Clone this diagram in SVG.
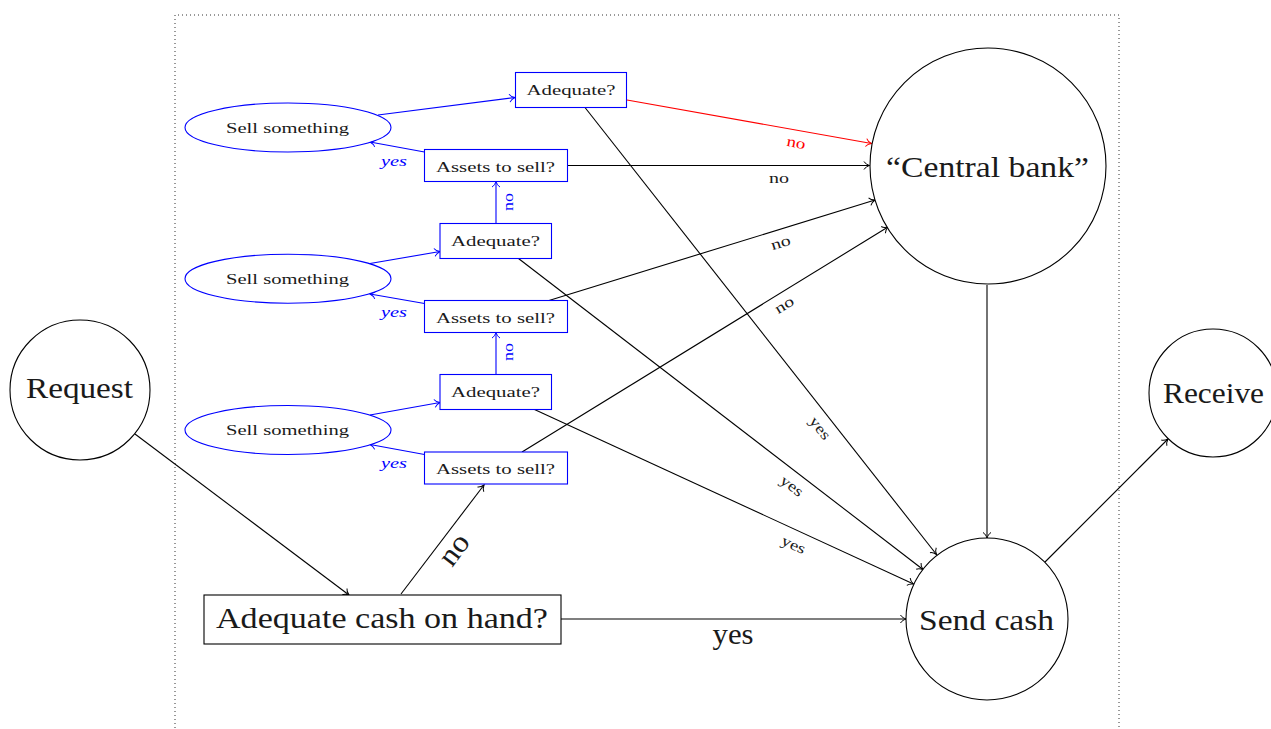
<svg xmlns="http://www.w3.org/2000/svg" width="1271" height="729" viewBox="0 0 1271 729">
<style>
.n{fill:#fff;stroke:#000;stroke-width:1.1}
.b{fill:#fff;stroke:#0000ff;stroke-width:1.1}
.t{font-family:"Liberation Serif","Times New Roman",serif;fill:#1a1a1a;text-anchor:middle}
.L{font-size:30px}
.S{font-size:15px}
.e{font-size:15px}
.c{fill:none;stroke-width:1.1}
.k{stroke:#000;marker-end:url(#ak)}
.u{stroke:#0000ff;marker-end:url(#au)}
.r{stroke:#ff0000;marker-end:url(#ar)}
.bl{fill:#0000ff}
.rd{fill:#ff0000}
</style>
<defs>
<marker id="ak" markerUnits="userSpaceOnUse" viewBox="-8 -6 10 12" markerWidth="10" markerHeight="12" refX="0" refY="0" orient="auto"><path d="M-5.5,-4 C-4.5,-2 -1.5,-0.5 0,0 C-1.5,0.5 -4.5,2 -5.5,4" fill="none" stroke="#000" stroke-width="1"/></marker>
<marker id="au" markerUnits="userSpaceOnUse" viewBox="-8 -6 10 12" markerWidth="10" markerHeight="12" refX="0" refY="0" orient="auto"><path d="M-5.5,-4 C-4.5,-2 -1.5,-0.5 0,0 C-1.5,0.5 -4.5,2 -5.5,4" fill="none" stroke="#0000ff" stroke-width="1"/></marker>
<marker id="ar" markerUnits="userSpaceOnUse" viewBox="-8 -6 10 12" markerWidth="10" markerHeight="12" refX="0" refY="0" orient="auto"><path d="M-5.5,-4 C-4.5,-2 -1.5,-0.5 0,0 C-1.5,0.5 -4.5,2 -5.5,4" fill="none" stroke="#ff0000" stroke-width="1"/></marker>
</defs>
<rect width="1271" height="729" fill="#fff"/>
<path d="M175,740 V15 H1119 V740" fill="none" stroke="#333" stroke-width="1" stroke-dasharray="1 3"/>

<g id="connectors">
<line class="c k" x1="135" y1="434" x2="349" y2="595"/>
<line class="c k" x1="401" y1="594" x2="484" y2="485"/>
<line class="c k" x1="561" y1="619" x2="906" y2="619"/>
<line class="c k" x1="987" y1="285" x2="987" y2="538"/>
<line class="c k" x1="1045" y1="562" x2="1168" y2="439"/>
<line class="c r" x1="627" y1="100" x2="871.5" y2="143.5"/>
<line class="c k" x1="567" y1="165.5" x2="869.5" y2="165.5"/>
<line class="c k" x1="549" y1="300.5" x2="875" y2="200"/>
<line class="c k" x1="522" y1="452" x2="888" y2="227"/>
<line class="c k" x1="585" y1="107.5" x2="936.5" y2="554.5"/>
<line class="c k" x1="518.5" y1="258.5" x2="923" y2="569.5"/>
<line class="c k" x1="534.5" y1="409.5" x2="913.5" y2="584"/>
<line class="c u" x1="378" y1="115" x2="515" y2="97.5"/>
<line class="c u" x1="424.5" y1="152" x2="370" y2="142"/>
<line class="c u" x1="496" y1="223.5" x2="496" y2="181.5"/>
<line class="c u" x1="370" y1="263.5" x2="440" y2="251.5"/>
<line class="c u" x1="424.5" y1="303.5" x2="370" y2="294"/>
<line class="c u" x1="496" y1="374.5" x2="496" y2="332.5"/>
<line class="c u" x1="370" y1="415" x2="440" y2="402.5"/>
<line class="c u" x1="424.5" y1="454.5" x2="370" y2="444.5"/>
<text class="t L" x="0" y="7" transform="translate(456,551) rotate(-53)" textLength="32" lengthAdjust="spacingAndGlyphs">no</text>
<text class="t L" x="733" y="644" textLength="41" lengthAdjust="spacingAndGlyphs">yes</text>
<text class="t e rd" x="0" y="3.5" transform="translate(796,144) rotate(10.3)" textLength="19" lengthAdjust="spacingAndGlyphs">no</text>
<text class="t e" x="779" y="183" textLength="20" lengthAdjust="spacingAndGlyphs">no</text>
<text class="t e" x="0" y="3.5" transform="translate(781,244) rotate(-17)" textLength="20" lengthAdjust="spacingAndGlyphs">no</text>
<text class="t e" x="0" y="3.5" transform="translate(785,306) rotate(-31.5)" textLength="20" lengthAdjust="spacingAndGlyphs">no</text>
<text class="t e" x="0" y="3.5" transform="translate(819,429) rotate(51.8)" textLength="25" lengthAdjust="spacingAndGlyphs">yes</text>
<text class="t e" x="0" y="3.5" transform="translate(791,487) rotate(37.6)" textLength="25" lengthAdjust="spacingAndGlyphs">yes</text>
<text class="t e" x="0" y="3.5" transform="translate(793,546) rotate(24.4)" textLength="25" lengthAdjust="spacingAndGlyphs">yes</text>
<text class="t e bl" x="0" y="3.5" transform="translate(509,202) rotate(-90)" textLength="18" lengthAdjust="spacingAndGlyphs">no</text>
<text class="t e bl" x="0" y="3.5" transform="translate(509,352) rotate(-90)" textLength="18" lengthAdjust="spacingAndGlyphs">no</text>
<text class="t e bl" x="394" y="166" font-style="italic" textLength="26" lengthAdjust="spacingAndGlyphs">yes</text>
<text class="t e bl" x="394" y="317" font-style="italic" textLength="26" lengthAdjust="spacingAndGlyphs">yes</text>
<text class="t e bl" x="394" y="468" font-style="italic" textLength="26" lengthAdjust="spacingAndGlyphs">yes</text>
</g>

<g id="request"><circle class="n" cx="80" cy="390" r="70"/><text class="t L" x="79.5" y="398" textLength="107" lengthAdjust="spacingAndGlyphs">Request</text></g>
<g id="adequate-cash"><rect class="n" x="204" y="595" width="357" height="49"/><text class="t L" x="382" y="628" textLength="332" lengthAdjust="spacingAndGlyphs">Adequate cash on hand?</text></g>
<g id="send-cash"><circle class="n" cx="987" cy="619" r="81"/><text class="t L" x="986.5" y="630" textLength="135" lengthAdjust="spacingAndGlyphs">Send cash</text></g>
<g id="central-bank"><circle class="n" cx="988" cy="166" r="118"/><text class="t L" x="987.5" y="177" textLength="203" lengthAdjust="spacingAndGlyphs">“Central bank”</text></g>
<g id="receive"><circle class="n" cx="1213" cy="393" r="64"/><text class="t L" x="1213.5" y="403" textLength="101" lengthAdjust="spacingAndGlyphs">Receive</text></g>

<g id="adequate-1"><rect class="b" x="515.5" y="72.5" width="111" height="35"/><text class="t S" x="571" y="95" textLength="89" lengthAdjust="spacingAndGlyphs">Adequate?</text></g>
<g id="sell-1"><ellipse class="b" cx="288" cy="127.5" rx="103" ry="24.5"/><text class="t S" x="287.5" y="132.5" textLength="123" lengthAdjust="spacingAndGlyphs">Sell something</text></g>
<g id="assets-1"><rect class="b" x="424.5" y="149.5" width="143" height="32"/><text class="t S" x="495.5" y="171.5" textLength="119" lengthAdjust="spacingAndGlyphs">Assets to sell?</text></g>

<g id="adequate-2"><rect class="b" x="440" y="223.5" width="111.5" height="35"/><text class="t S" x="495.5" y="246" textLength="89" lengthAdjust="spacingAndGlyphs">Adequate?</text></g>
<g id="sell-2"><ellipse class="b" cx="288" cy="278.7" rx="103" ry="24.5"/><text class="t S" x="287.5" y="283.5" textLength="123" lengthAdjust="spacingAndGlyphs">Sell something</text></g>
<g id="assets-2"><rect class="b" x="424.5" y="300.5" width="143" height="32"/><text class="t S" x="495.5" y="322.5" textLength="119" lengthAdjust="spacingAndGlyphs">Assets to sell?</text></g>

<g id="adequate-3"><rect class="b" x="440" y="374.5" width="111.5" height="35"/><text class="t S" x="495.5" y="397" textLength="89" lengthAdjust="spacingAndGlyphs">Adequate?</text></g>
<g id="sell-3"><ellipse class="b" cx="288" cy="430" rx="103" ry="24.5"/><text class="t S" x="287.5" y="434.5" textLength="123" lengthAdjust="spacingAndGlyphs">Sell something</text></g>
<g id="assets-3"><rect class="b" x="424.5" y="452" width="143" height="32"/><text class="t S" x="495.5" y="474" textLength="119" lengthAdjust="spacingAndGlyphs">Assets to sell?</text></g>
</svg>
